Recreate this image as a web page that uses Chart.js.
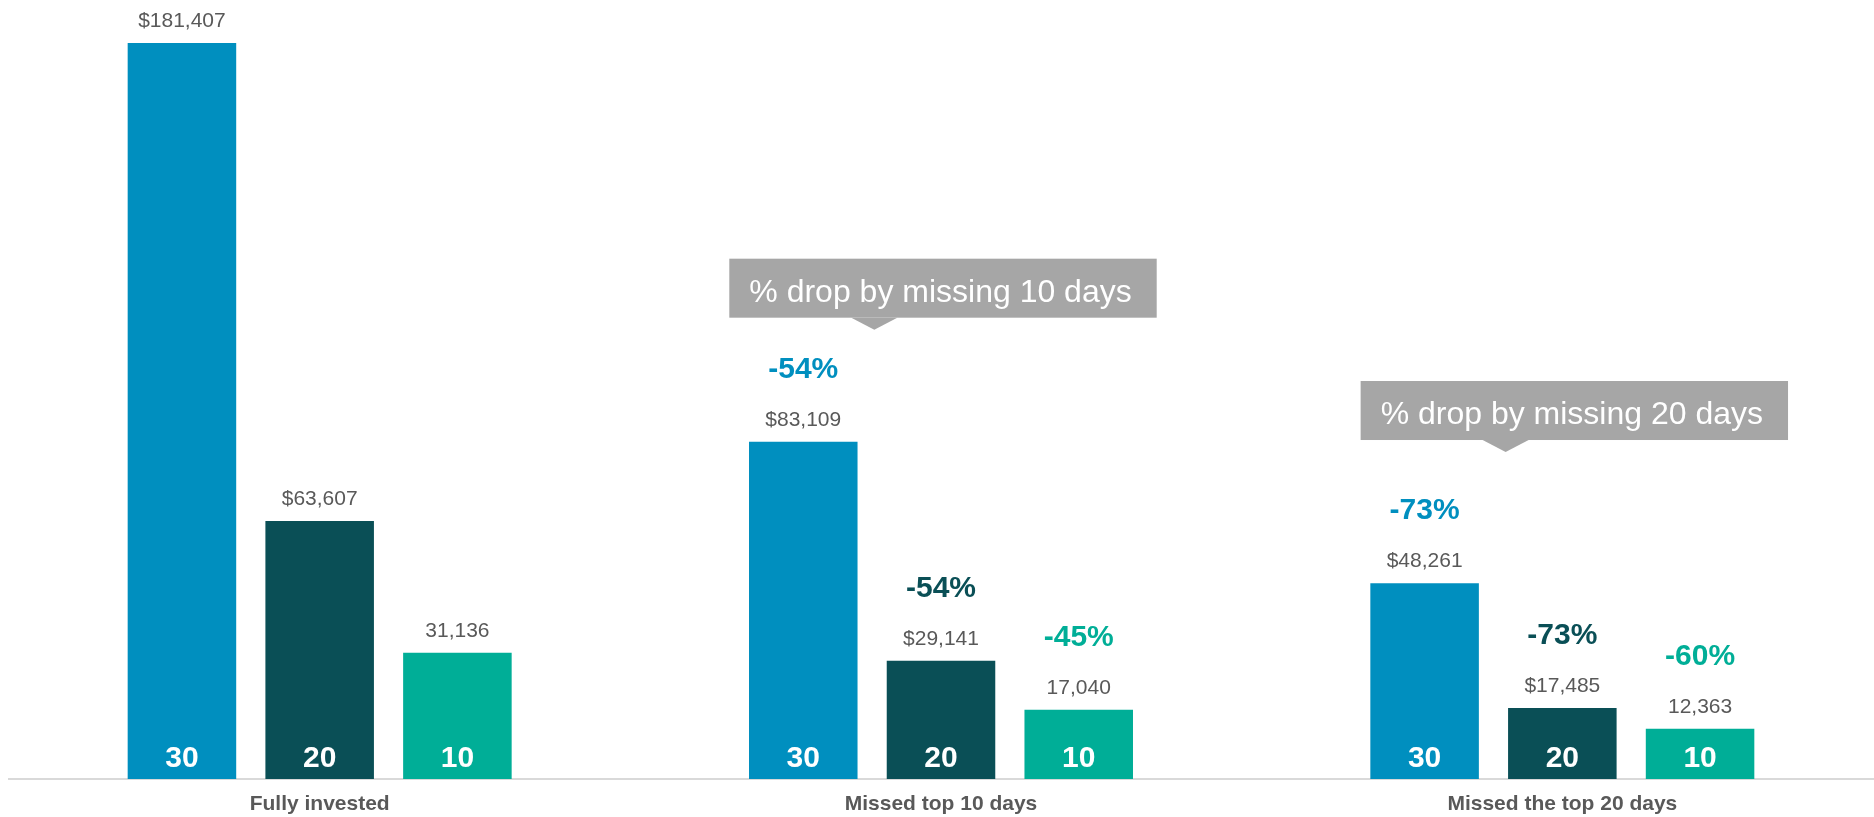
<!DOCTYPE html>
<html>
<head>
<meta charset="utf-8">
<script src="https://cdn.jsdelivr.net/npm/chart.js@4"></script>
<style>
  html, body { margin: 0; padding: 0; background: #fff; }
  canvas { display: block; }
</style>
</head>
<body>
<canvas id="missedDaysChart" width="1874" height="817"></canvas>
<script>
const categories = ["Fully invested", "Missed top 10 days", "Missed the top 20 days"];
const seriesNames = ["30", "20", "10"];
const values30 = [181407, 83109, 48261];
const values20 = [63607, 29141, 17485];
const values10 = [31136, 17040, 12363];
const drops30 = [null, -54, -73];
const drops20 = [null, -54, -73];
const drops10 = [null, -45, -60];
const valuePrefixes = ["$", "$", ""];
const seriesColors = ["#008fbf", "#0a4f56", "#00ae97"];

const FONT = '"Liberation Sans", Arial, Helvetica, sans-serif';
const seriesValues = [values30, values20, values10];
const seriesDrops = [drops30, drops20, drops10];

// value, % drop and series name labels on every bar
const barLabels = {
  id: "barLabels",
  afterDatasetsDraw(chart) {
    const ctx = chart.ctx;
    const bottom = chart.chartArea.bottom;
    ctx.save();
    ctx.textAlign = "center";
    ctx.textBaseline = "alphabetic";
    chart.data.datasets.forEach((ds, i) => {
      const meta = chart.getDatasetMeta(i);
      meta.data.forEach((bar, j) => {
        const v = ds.data[j];
        const valueY = bar.y - 16;
        ctx.font = "21px " + FONT;
        ctx.fillStyle = "#595959";
        ctx.fillText(valuePrefixes[i] + v.toLocaleString("en-US"), bar.x, valueY);

        const drop = seriesDrops[i][j];
        if (drop !== null) {
          ctx.font = "bold 30px " + FONT;
          ctx.fillStyle = seriesColors[i];
          ctx.fillText(drop + "%", bar.x, valueY - 48);
        }

        ctx.font = "bold 30px " + FONT;
        ctx.fillStyle = "#ffffff";
        ctx.fillText(ds.label, bar.x, bottom - 12);
      });
    });
    ctx.restore();
  }
};

// grey callout boxes with a small pointer under them
const callouts = {
  id: "callouts",
  afterDraw(chart, args, opts) {
    const ctx = chart.ctx;
    const xs = chart.scales.x;
    const ys = chart.scales.y;
    ctx.save();
    ctx.font = "32px " + FONT;
    (opts.items || []).forEach((c) => {
      const w = ctx.measureText(c.text).width + 45;
      const h = 59;
      const cx = xs.getPixelForValue(c.index) + c.dx;
      const left = cx - w / 2;
      const bottomY = ys.getPixelForValue(c.bottom);
      const top = bottomY - h;
      ctx.fillStyle = "#a6a6a6";
      ctx.fillRect(left, top, w, h);
      ctx.beginPath();
      ctx.moveTo(left + 122, bottomY);
      ctx.lineTo(left + 145, bottomY + 12);
      ctx.lineTo(left + 168, bottomY);
      ctx.closePath();
      ctx.fill();
      ctx.fillStyle = "#ffffff";
      ctx.textAlign = "left";
      ctx.textBaseline = "alphabetic";
      ctx.fillText(c.text, left + 20, top + 43);
    });
    ctx.restore();
  }
};

new Chart(document.getElementById("missedDaysChart"), {
  type: "bar",
  data: {
    labels: categories,
    datasets: seriesNames.map((name, i) => ({
      label: name,
      data: seriesValues[i],
      backgroundColor: seriesColors[i],
      borderWidth: 0,
      categoryPercentage: 0.665,
      barPercentage: 0.788
    }))
  },
  options: {
    responsive: false,
    animation: false,
    layout: { padding: { left: 9, right: 1, top: 0, bottom: 0 } },
    plugins: {
      legend: { display: false },
      tooltip: { enabled: false },
      callouts: {
        items: [
          { index: 1, text: "% drop by missing 10 days", dx: 2, bottom: 113700 },
          { index: 2, text: "% drop by missing 20 days", dx: 12, bottom: 83550 }
        ]
      }
    },
    scales: {
      x: {
        grid: { display: false, drawTicks: false },
        border: { display: true, color: "#d9d9d9", width: 2 },
        ticks: {
          color: "#595959",
          padding: 13,
          font: { family: FONT, size: 21, weight: "bold" }
        },
        afterFit(scale) { scale.height = 38; }
      },
      y: {
        display: false,
        min: 0,
        max: 192000
      }
    }
  },
  plugins: [barLabels, callouts]
});
</script>
</body>
</html>
